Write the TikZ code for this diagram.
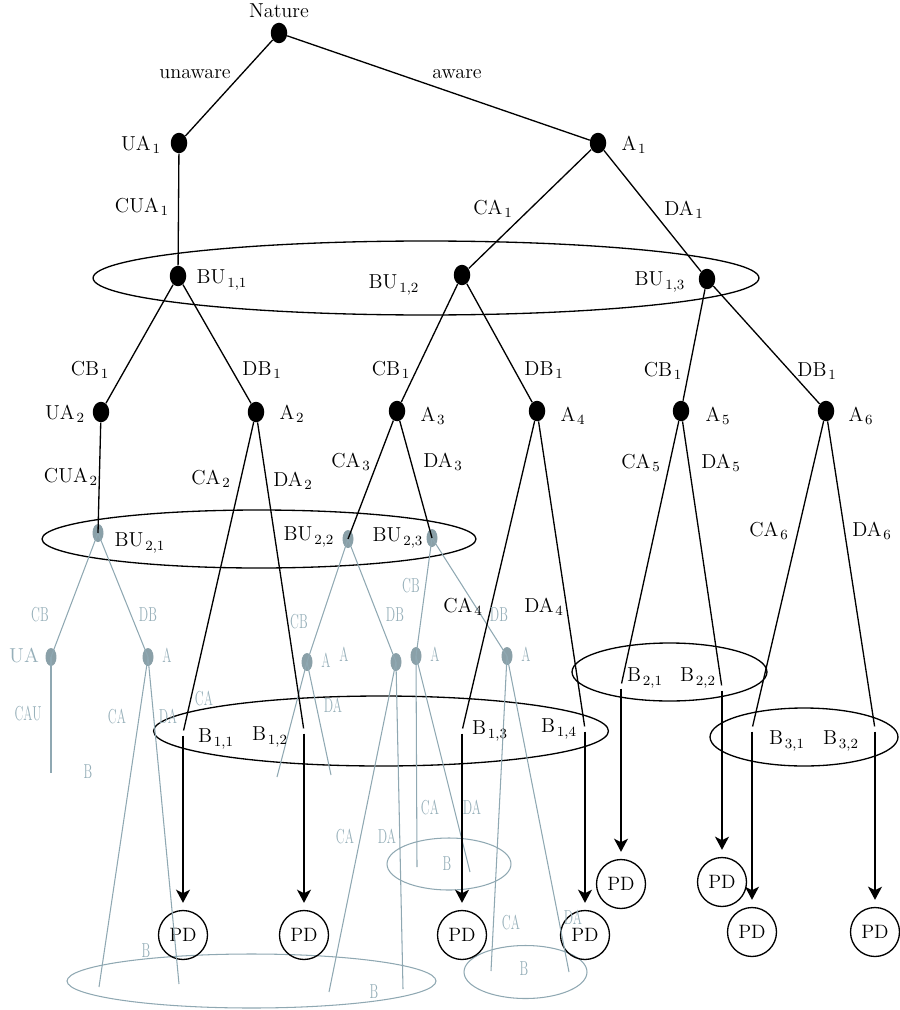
\documentclass[tikz,border=0pt]{standalone}
\usetikzlibrary{shapes.geometric,arrows.meta}
\definecolor{gnode}{RGB}{138,160,168}
\definecolor{gline}{RGB}{143,168,178}
\definecolor{gtext}{RGB}{150,175,185}
\newcommand\lb[2]{#1\kern1pt$_{#2}$}
\newcommand\cg[1]{\scalebox{0.62}[1]{#1}}
\begin{document}
\begin{tikzpicture}[x=0.02cm,y=-0.02cm,
  dot/.style={ellipse,fill=black,inner sep=0,minimum width=0.33cm,minimum height=0.41cm},
  gdot/.style={ellipse,fill=gnode,inner sep=0,minimum width=0.22cm,minimum height=0.36cm},
  bpt/.style={circle,inner sep=0,minimum size=0.09cm},
  pd/.style={circle,draw,line width=0.75pt,minimum size=0.98cm,inner sep=0,font=\fontsize{11}{13}\selectfont},
  edge/.style={line width=0.75pt},
  gedge/.style={draw=gline,line width=0.6pt},
  arr/.style={line width=0.75pt,-{Stealth[length=7.5pt,width=8pt,inset=2pt]},shorten >=4pt},
  lbl/.style={inner sep=0,font=\fontsize{11.5}{13.5}\selectfont},
  glbl/.style={inner sep=0,text=gtext,font=\fontsize{11.5}{13.5}\selectfont},
  info/.style={draw,ellipse,line width=0.75pt,inner sep=0},
  ginfo/.style={draw=gline,ellipse,line width=0.6pt,inner sep=0}]
\useasboundingbox (0,0) rectangle (899,1010);

% information sets
\node[info,minimum width=13.32cm,minimum height=1.48cm] (i1) at (426,278) {};
\node[info,minimum width=8.68cm,minimum height=1.16cm] (i2) at (259,539) {};
\node[info,minimum width=9.10cm,minimum height=1.40cm] (i3) at (381,731) {};
\node[info,minimum width=3.90cm,minimum height=1.16cm] (i4) at (669.5,672) {};
\node[info,minimum width=3.76cm,minimum height=1.16cm] (i5) at (804,737) {};
\node[ginfo,minimum width=7.38cm,minimum height=1.08cm] (g1) at (251.5,981) {};
\node[ginfo,minimum width=2.48cm,minimum height=1.04cm] (g2) at (449,864) {};
\node[ginfo,minimum width=2.46cm,minimum height=1.06cm] (g3) at (525.5,972) {};

% black nodes
\node[dot] (nat) at (279,33) {};
\node[dot] (ua1) at (179,143) {};
\node[dot] (a1) at (598,143) {};
\node[dot] (bu11) at (178,276) {};
\node[dot] (bu12) at (462,275) {};
\node[dot] (bu13) at (707,279) {};
\node[dot] (ua2) at (101,412) {};
\node[dot] (a2) at (256,412) {};
\node[dot] (a3) at (397,411) {};
\node[dot] (a4) at (537,411) {};
\node[dot] (a5) at (681,411) {};
\node[dot] (a6) at (826,411) {};

% grey nodes
\node[gdot] (bu21) at (98,533) {};
\node[gdot] (bu22) at (348,539) {};
\node[gdot] (bu23) at (432,538) {};
\node[gdot] (gua) at (51,657) {};
\node[gdot] (ga1) at (148,657) {};
\node[gdot] (ga2) at (307,662) {};
\node[gdot] (ga3) at (396,662) {};
\node[gdot] (ga4) at (416,656) {};
\node[gdot] (ga5) at (507,656) {};

% B points
\node[bpt] (b11) at (183,733) {};
\node[bpt] (b12) at (304,731) {};
\node[bpt] (b13) at (462,731) {};
\node[bpt] (b14) at (585,729) {};
\node[bpt] (b21) at (621,686) {};
\node[bpt] (b22) at (722,688) {};
\node[bpt] (b31) at (752,729) {};
\node[bpt] (b32) at (875,729) {};

% PD nodes
\node[pd] (pd1) at (183,935) {PD};
\node[pd] (pd2) at (304,935) {PD};
\node[pd] (pd3) at (462,935) {PD};
\node[pd] (pd4) at (585,935) {PD};
\node[pd] (pd5) at (621,884) {PD};
\node[pd] (pd6) at (722,882) {PD};
\node[pd] (pd7) at (752,932) {PD};
\node[pd] (pd8) at (875,932) {PD};

% grey free ends
\coordinate (e1) at (51,773);
\coordinate (e2) at (99,987);
\coordinate (e3) at (179,984);
\coordinate (e4) at (277,777);
\coordinate (e5) at (331,775);
\coordinate (e6) at (329,992);
\coordinate (e7) at (403,989);
\coordinate (e8) at (417,867);
\coordinate (e9) at (470,872);
\coordinate (e10) at (491,971);
\coordinate (e11) at (569,972);

% grey edges
\draw[gedge] (bu21.center) -- (gua.center);
\draw[gedge] (bu21.center) -- (ga1.center);
\draw[gedge] (bu22.center) -- (ga2.center);
\draw[gedge] (bu22.center) -- (ga3.center);
\draw[gedge] (bu23.center) -- (ga4.center);
\draw[gedge] (bu23.center) -- (ga5.center);
\draw[gedge] (gua.center) -- (e1);
\draw[gedge] (ga1.center) -- (e2);
\draw[gedge] (ga1.center) -- (e3);
\draw[gedge] (ga2.center) -- (e4);
\draw[gedge] (ga2.center) -- (e5);
\draw[gedge] (ga3.center) -- (e6);
\draw[gedge] (ga3.center) -- (e7);
\draw[gedge] (ga4.center) -- (e8);
\draw[gedge] (ga4.center) -- (e9);
\draw[gedge] (ga5.center) -- (e10);
\draw[gedge] (ga5.center) -- (e11);

% black edges
\draw[edge] (nat) -- (ua1);
\draw[edge] (nat) -- (a1);
\draw[edge] (ua1) -- (bu11);
\draw[edge] (a1) -- (bu12);
\draw[edge] (a1) -- (bu13);
\draw[edge] (bu11) -- (ua2);
\draw[edge] (bu11) -- (a2);
\draw[edge] (bu12) -- (a3);
\draw[edge] (bu12) -- (a4);
\draw[edge] (bu13) -- (a5);
\draw[edge] (bu13) -- (a6);
\draw[edge] (ua2) -- (bu21.center);
\draw[edge] (a2) -- (b11);
\draw[edge] (a2) -- (b12);
\draw[edge] (a3) -- (bu22.center);
\draw[edge] (a3) -- (bu23.center);
\draw[edge] (a4) -- (b13);
\draw[edge] (a4) -- (b14);
\draw[edge] (a5) -- (b21);
\draw[edge] (a5) -- (b22);
\draw[edge] (a6) -- (b31);
\draw[edge] (a6) -- (b32);

% arrows
\draw[arr] (b11) -- (pd1);
\draw[arr] (b12) -- (pd2);
\draw[arr] (b13) -- (pd3);
\draw[arr] (b14) -- (pd4);
\draw[arr] (b21) -- (pd5);
\draw[arr] (b22) -- (pd6);
\draw[arr] (b31) -- (pd7);
\draw[arr] (b32) -- (pd8);

% black labels
\node[lbl] (tnat) at (279,11) {Nature};
\node[lbl] (tunaw) at (195,74) {unaware};
\node[lbl] (taw) at (457,74) {aware};
\node[lbl] (tua1) at (141,145) {\lb{UA}{1}};
\node[lbl] (ta1) at (634,145) {\lb{A}{1}};
\node[lbl] (tcua1) at (142,207) {\lb{CUA}{1}};
\node[lbl] (tca1) at (493,209) {\lb{CA}{1}};
\node[lbl] (tda1) at (684,210) {\lb{DA}{1}};
\node[lbl] (tbu11) at (222,280) {\lb{BU}{1,1}};
\node[lbl] (tbu12) at (394,285) {\lb{BU}{1,2}};
\node[lbl] (tbu13) at (660,282) {\lb{BU}{1,3}};
\node[lbl] (tcb1a) at (90,370) {\lb{CB}{1}};
\node[lbl] (tdb1a) at (262,370) {\lb{DB}{1}};
\node[lbl] (tcb1b) at (391,370) {\lb{CB}{1}};
\node[lbl] (tdb1b) at (544,370) {\lb{DB}{1}};
\node[lbl] (tcb1c) at (663,371) {\lb{CB}{1}};
\node[lbl] (tdb1c) at (817,371) {\lb{DB}{1}};
\node[lbl] (tua2) at (65,414) {\lb{UA}{2}};
\node[lbl] (ta2) at (292,414) {\lb{A}{2}};
\node[lbl] (ta3) at (433,416) {\lb{A}{3}};
\node[lbl] (ta4) at (573,416) {\lb{A}{4}};
\node[lbl] (ta5) at (718,416) {\lb{A}{5}};
\node[lbl] (ta6) at (861,416) {\lb{A}{6}};
\node[lbl] (tcua2) at (71,477) {\lb{CUA}{2}};
\node[lbl] (tca2) at (211,479) {\lb{CA}{2}};
\node[lbl] (tda2) at (293,481) {\lb{DA}{2}};
\node[lbl] (tca3) at (351,462) {\lb{CA}{3}};
\node[lbl] (tda3) at (443,462) {\lb{DA}{3}};
\node[lbl] (tca5) at (641,463) {\lb{CA}{5}};
\node[lbl] (tda5) at (721,463) {\lb{DA}{5}};
\node[lbl] (tca6) at (769,531) {\lb{CA}{6}};
\node[lbl] (tda6) at (872,531) {\lb{DA}{6}};
\node[lbl] (tbu21) at (140,543) {\lb{BU}{2,1}};
\node[lbl] (tbu22) at (309,537) {\lb{BU}{2,2}};
\node[lbl] (tbu23) at (398,538) {\lb{BU}{2,3}};
\node[lbl] (tca4) at (463,607) {\lb{CA}{4}};
\node[lbl] (tda4) at (544,607) {\lb{DA}{4}};
\node[lbl] (tb11) at (216,739) {\lb{B}{1,1}};
\node[lbl] (tb12) at (270,737) {\lb{B}{1,2}};
\node[lbl] (tb13) at (490,731) {\lb{B}{1,3}};
\node[lbl] (tb14) at (559,729) {\lb{B}{1,4}};
\node[lbl] (tb21) at (645,678) {\lb{B}{2,1}};
\node[lbl] (tb22) at (698,678) {\lb{B}{2,2}};
\node[lbl] (tb31) at (787,741) {\lb{B}{3,1}};
\node[lbl] (tb32) at (841,741) {\lb{B}{3,2}};

% grey labels
\node[glbl] (gcb1) at (40,615) {\cg{CB}};
\node[glbl] (gdb1) at (148,615) {\cg{DB}};
\node[glbl] (gtua) at (24,655) {UA};
\node[glbl] (gta1) at (167,655) {\cg{A}};
\node[glbl] (gcau) at (28,713) {\cg{CAU}};
\node[glbl] (gca1) at (117,716) {\cg{CA}};
\node[glbl] (gda1) at (168,716) {\cg{DA}};
\node[glbl] (gca2) at (204,698) {\cg{CA}};
\node[glbl] (gb1) at (88,772) {\cg{B}};
\node[glbl] (gcb2) at (299,622) {\cg{CB}};
\node[glbl] (gdb2) at (395,615) {\cg{DB}};
\node[glbl] (gta2) at (326,660) {\cg{A}};
\node[glbl] (gta2b) at (344,654) {\cg{A}};
\node[glbl] (gda2) at (333,705) {\cg{DA}};
\node[glbl] (gcb3) at (411,586) {\cg{CB}};
\node[glbl] (gdb3) at (499,615) {\cg{DB}};
\node[glbl] (gta4) at (435,654) {\cg{A}};
\node[glbl] (gta5) at (526,654) {\cg{A}};
\node[glbl] (gca3) at (345,836) {\cg{CA}};
\node[glbl] (gda3) at (387,836) {\cg{DA}};
\node[glbl] (gca4) at (430,807) {\cg{CA}};
\node[glbl] (gda4) at (472,807) {\cg{DA}};
\node[glbl] (gca5) at (511,922) {\cg{CA}};
\node[glbl] (gda5) at (573,917) {\cg{DA}};
\node[glbl] (gb2) at (146,951) {\cg{B}};
\node[glbl] (gb3) at (374,992) {\cg{B}};
\node[glbl] (gb4) at (447,864) {\cg{B}};
\node[glbl] (gb5) at (524,969) {\cg{B}};
\end{tikzpicture}
\end{document}
